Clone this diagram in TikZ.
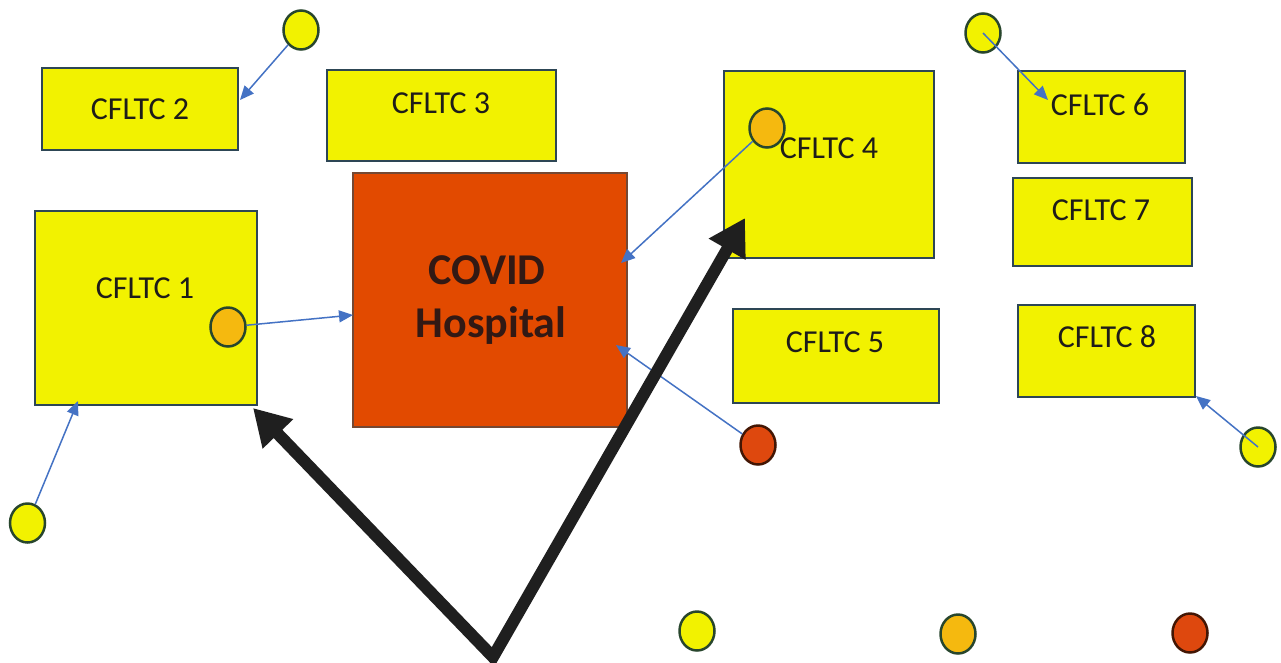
\documentclass[tikz,border=0pt]{standalone}
\usepackage{fontspec}
\setmainfont{Carlito}
\usetikzlibrary{arrows.meta,shapes.geometric}
\definecolor{boxyellow}{RGB}{242,242,0}
\definecolor{boxedge}{RGB}{45,70,85}
\definecolor{dotorange}{RGB}{245,185,15}
\definecolor{hospred}{RGB}{226,74,0}
\definecolor{dotred}{RGB}{222,72,14}
\definecolor{dotedge}{RGB}{40,70,45}
\definecolor{arrowblue}{RGB}{68,114,196}
\definecolor{txtdark}{RGB}{30,28,25}
\definecolor{hosptxt}{RGB}{50,25,20}
\begin{document}
\begin{tikzpicture}[x=1pt,y=-1pt,
  box/.style={draw=boxedge,line width=2pt,fill=boxyellow,rectangle,inner sep=0pt},
  hospbox/.style={draw=boxedge!60!hospred,line width=1.5pt,fill=hospred,rectangle,inner sep=0pt},
  lbl/.style={anchor=base,inner sep=0pt,text=txtdark,font=\fontsize{32}{32}\selectfont},
  hlbl/.style={anchor=base,inner sep=0pt,text=hosptxt,font=\fontsize{44}{44}\selectfont\bfseries},
  dot/.style={ellipse,draw=dotedge,line width=2.5pt,minimum width=35pt,minimum height=39pt,inner sep=0pt},
  ydot/.style={dot,fill=boxyellow},
  odot/.style={dot,fill=dotorange},
  rdot/.style={dot,fill=dotred,draw=black!70!dotred},
  link/.style={draw=arrowblue,line width=1.5pt,-{Triangle[length=14pt,width=12pt]}},
  bigarrow/.style={draw=black!88,line width=12pt,line join=miter,{Triangle[length=36pt,width=40pt]}-{Triangle[length=36pt,width=40pt]}}
]
\useasboundingbox[fill=white] (0,0) rectangle (1281,662);

% boxes
\node[box,minimum width=196pt,minimum height=82pt] (b2) at (140,109) {};
\node[box,minimum width=229pt,minimum height=91pt] (b3) at (441.5,115.5) {};
\node[box,minimum width=222pt,minimum height=194pt] (b1) at (146,308) {};
\node[hospbox,minimum width=274pt,minimum height=254pt] (hosp) at (490,300) {};
\node[box,minimum width=210pt,minimum height=187pt] (b4) at (829,164.5) {};
\node[box,minimum width=206pt,minimum height=94pt] (b5) at (836,356) {};
\node[box,minimum width=167pt,minimum height=92pt] (b6) at (1101.5,117) {};
\node[box,minimum width=179pt,minimum height=88pt] (b7) at (1102.5,222) {};
\node[box,minimum width=177pt,minimum height=92pt] (b8) at (1106.5,351) {};

% labels
\node[lbl] (l2) at (140,119) {CFLTC 2};
\node[lbl] (l3) at (441,113) {CFLTC 3};
\node[lbl] (l1) at (145,298) {CFLTC 1};
\node[lbl] (l4) at (829,158) {CFLTC 4};
\node[lbl] (l5) at (835,352) {CFLTC 5};
\node[lbl] (l6) at (1100,115) {CFLTC 6};
\node[lbl] (l7) at (1101,220) {CFLTC 7};
\node[lbl] (l8) at (1107,347) {CFLTC 8};
\node[hlbl] (hl1) at (487,284) {COVID};
\node[hlbl] (hl2) at (491,337) {Hospital};

% dots
\node[ydot] (y1) at (301,30) {};
\node[ydot] (y2) at (983,33) {};
\node[odot] (o4) at (767,128) {};
\node[odot] (o1) at (228,327) {};
\node[rdot] (r1) at (758,445) {};
\node[ydot] (y3) at (27.5,523) {};
\node[ydot] (y4) at (1258,447) {};
\node[ydot] (ly) at (697,631) {};
\node[odot] (lo) at (958,634) {};
\node[rdot] (lr) at (1190,633) {};

% arrow end points
\coordinate (t2) at (240,100);
\coordinate (t6) at (1048,100);
\coordinate (th4) at (621,263);
\coordinate (th1) at (353,315);
\coordinate (th5) at (616,345);
\coordinate (t1b) at (78,401);
\coordinate (t8) at (1196,396);
\coordinate (tA) at (253,408);
\coordinate (vv) at (493,657);
\coordinate (tB) at (745,218);

% thin blue links
\draw[link] (y1) -- (t2);
\draw[link] (y2.center) -- (t6);
\draw[link] (o4) -- (th4);
\draw[link] (o1) -- (th1);
\draw[link] (r1) -- (th5);
\draw[link] (y3) -- (t1b);
\draw[link] (y4.center) -- (t8);

% thick black arrows
\draw[bigarrow] (tA) -- (vv) -- (tB);
\end{tikzpicture}
\end{document}
